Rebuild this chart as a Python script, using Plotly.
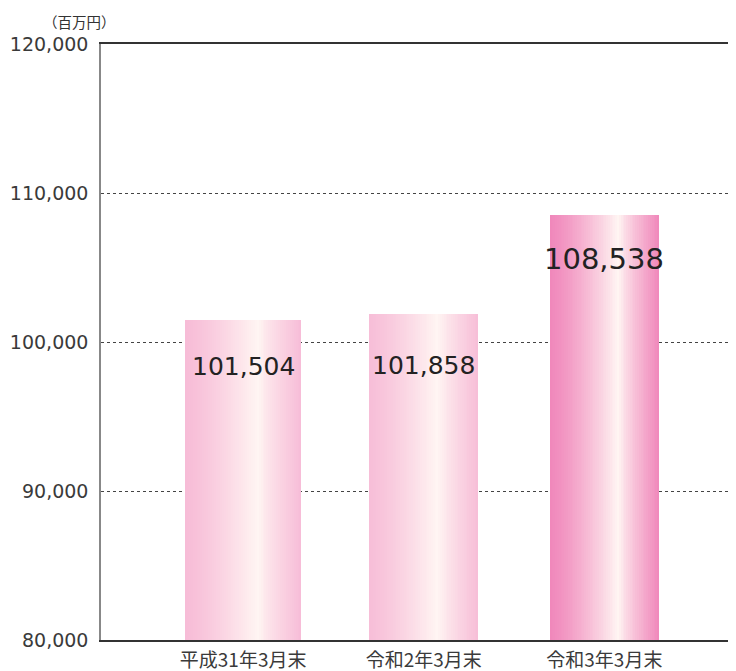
import plotly.graph_objects as go

# ---- data ----
categories = ["平成31年3月末", "令和2年3月末", "令和3年3月末"]
values = [101504, 101858, 108538]
value_labels = ["101,504", "101,858", "108,538"]
y_ticks = [80000, 90000, 100000, 110000, 120000]
unit_label = "（百万円）"

# ---- style ----
bar_widths = [0.645, 0.605, 0.605]
edge_colors = [(247, 188, 215), (247, 190, 216), (240, 136, 187)]
center_color = (255, 246, 243)
white_pos = 0.63
label_sizes = [25, 25, 29]
label_shifts = [-47, -51, -44]
N = 60
FONT = "Noto Sans CJK JP"
NUM_FONT = "DejaVu Sans"

def lerp(a, b, t):
    return tuple(int(round(a[i] + (b[i] - a[i]) * t)) for i in range(3))

xs, ys, offs, wds, cols = [], [], [], [], []
for i, v in enumerate(values):
    w = bar_widths[i]
    sw = w / N
    for k in range(N):
        f = (k + 0.5) / N
        if f <= white_pos:
            t = f / white_pos
            c = lerp(edge_colors[i], center_color, t ** 1.3)
        else:
            t = (f - white_pos) / (1 - white_pos)
            c = lerp(center_color, edge_colors[i], t ** 0.8)
        xs.append(i)
        ys.append(v)
        offs.append(-w / 2 + k * sw)
        wds.append(sw * 1.6 if k < N - 1 else sw)
        cols.append("rgb(%d,%d,%d)" % c)

fig = go.Figure()
fig.add_trace(go.Bar(
    x=xs, y=ys, offset=offs, width=wds,
    marker=dict(color=cols, line=dict(width=0)),
    hoverinfo="skip", showlegend=False,
))

for i, v in enumerate(values):
    fig.add_annotation(
        x=i, y=v, xref="x", yref="y", text=value_labels[i],
        showarrow=False, yanchor="middle", yshift=label_shifts[i],
        font=dict(family=NUM_FONT, size=label_sizes[i], color="#222222"),
    )

fig.add_annotation(
    xref="paper", yref="paper", x=0, y=1, xanchor="right", yanchor="middle",
    xshift=17, yshift=23, text=unit_label, showarrow=False,
    font=dict(family=FONT, size=14.5, color="#333333"),
)

fig.update_layout(
    width=728, height=663,
    margin=dict(l=93, r=0, t=36, b=31),
    paper_bgcolor="white", plot_bgcolor="white",
    barmode="overlay", bargap=0,
    font=dict(family=FONT, color="#333333"),
    xaxis=dict(
        range=[-0.787, 2.729],
        tickmode="array", tickvals=list(range(len(categories))), ticktext=categories,
        showgrid=False, zeroline=False,
        showline=True, linecolor="#333333", linewidth=1.5, mirror=True,
        ticks="", ticklabelstandoff=2,
        tickfont=dict(family=FONT, size=19, color="#3a3a3a"),
    ),
    yaxis=dict(
        range=[80000, 120000],
        tickmode="array", tickvals=y_ticks, tickformat=",",
        showgrid=True, gridcolor="#444444", gridwidth=1, griddash="3px,3px",
        zeroline=False,
        showline=True, linecolor="#888888", linewidth=1.5,
        ticks="", ticklabelstandoff=7,
        tickfont=dict(family=NUM_FONT, size=19, color="#3a3a3a"),
    ),
)

fig.write_html("out.html")
